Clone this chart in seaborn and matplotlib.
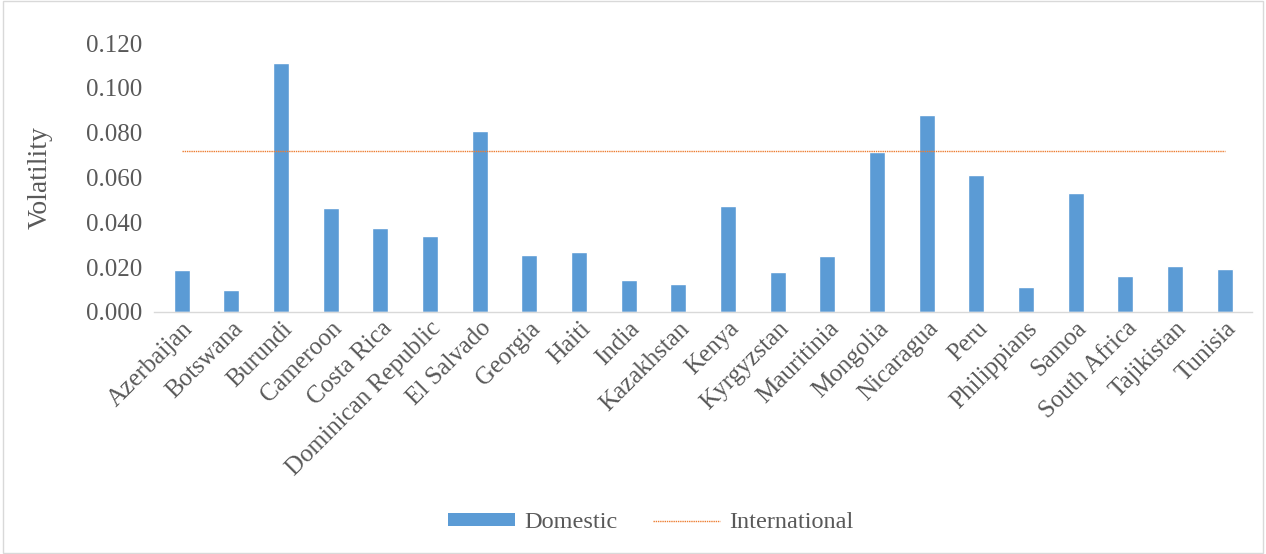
import numpy as np
import pandas as pd
import matplotlib
matplotlib.use("Agg")
import matplotlib.pyplot as plt
import seaborn as sns
from matplotlib.patches import Rectangle, Patch
from matplotlib.lines import Line2D

# data
countries = ['Azerbaijan', 'Botswana', 'Burundi', 'Cameroon', 'Costa Rica',
             'Dominican Republic', 'El Salvado', 'Georgia', 'Haiti', 'India',
             'Kazakhstan', 'Kenya', 'Kyrgyzstan', 'Mauritinia', 'Mongolia',
             'Nicaragua', 'Peru', 'Philippians', 'Samoa', 'South Africa',
             'Tajikistan', 'Tunisia']
domestic = [0.0187, 0.0098, 0.1110, 0.0464, 0.0375, 0.0339, 0.0807, 0.0254,
            0.0268, 0.0143, 0.0125, 0.0473, 0.0178, 0.0250, 0.0715, 0.0880,
            0.0611, 0.0112, 0.0531, 0.0161, 0.0205, 0.0192]
international = [0.0718] * len(countries)
yticks = [0.0, 0.02, 0.04, 0.06, 0.08, 0.10, 0.12]

df = pd.DataFrame({'Country': countries, 'Domestic': domestic})

sns.set_style('white')
plt.rcParams['font.family'] = ['Liberation Serif', 'DejaVu Serif']

bar_color = '#5b9bd5'
line_color = '#ed7d31'
text_color = '#595959'

fig = plt.figure(figsize=(12.66, 5.54), dpi=100)
ax = fig.add_axes([0.122, 0.437, 0.867, 0.485])

sns.barplot(data=df, x='Country', y='Domestic', color=bar_color,
            width=0.32, saturation=1, ax=ax)
ax.plot(np.arange(len(countries)), international, color=line_color,
        linestyle=(0, (1, 0.6)), linewidth=1.0)

ax.set_xlim(-0.55, len(countries) - 0.45)
ax.set_ylim(0, 0.12)
ax.set_yticks(yticks)
ax.set_yticklabels([f'{v:.3f}' for v in yticks])
ax.set_xlabel('')
ax.set_ylabel('Volatility', fontsize=20, color=text_color, labelpad=24)
ax.tick_params(axis='y', labelsize=18, colors=text_color, length=0, pad=9)
ax.tick_params(axis='x', labelsize=18, colors=text_color, length=0, pad=4)
plt.setp(ax.get_xticklabels(), rotation=45, ha='right', rotation_mode='anchor')

for s in ['top', 'right', 'left']:
    ax.spines[s].set_visible(False)
ax.spines['bottom'].set_color('#d9d9d9')
ax.spines['bottom'].set_linewidth(1.0)

handles = [Patch(facecolor=bar_color, edgecolor='none'),
           Line2D([0], [0], color=line_color, linestyle=(0, (1, 0.6)), linewidth=1.0)]
fig.legend(handles, ['Domestic', 'International'], loc='center',
           bbox_to_anchor=(0.514, 0.056), ncol=2, frameon=False,
           fontsize=17.5, labelcolor=text_color, handlelength=2.75,
           handleheight=0.45, columnspacing=1.45, handletextpad=0.38)

fig.add_artist(Rectangle((0.002, 0.002), 0.996, 0.996, transform=fig.transFigure,
                         fill=False, edgecolor='#d9d9d9', linewidth=1))

fig.savefig('out.png', dpi=100)
